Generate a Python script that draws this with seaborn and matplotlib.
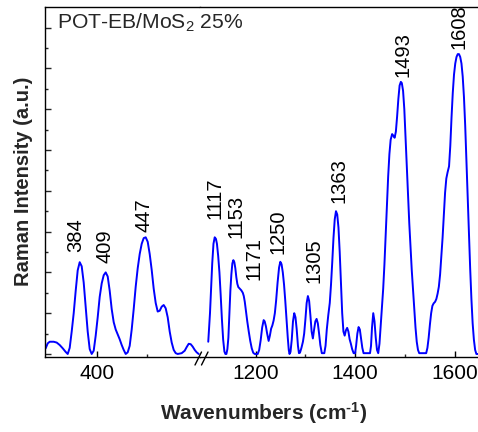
import matplotlib
matplotlib.use("Agg")
import matplotlib.pyplot as plt
from matplotlib.lines import Line2D
from matplotlib.ticker import FixedLocator, NullFormatter
import seaborn as sns
import pandas as pd

# ---- data ----
left_wn = [349, 351, 353, 357, 360, 363, 366, 369, 371, 373, 375, 377, 379, 381, 383, 385, 387,
           389, 391, 393, 395, 397, 399, 401, 403, 405, 407, 409, 411, 413, 415, 417, 419, 421,
           423, 425, 427, 429, 431, 433, 435, 437, 439, 441, 443, 445, 447, 449, 451, 453, 455,
           457, 459, 461, 463, 465, 467, 469, 471, 473, 475, 477, 479, 481, 485, 488, 490, 492,
           494, 496, 498, 500, 502]
left_int = [0.14, 0.26, 0.30, 0.30, 0.28, 0.22, 0.14, 0.05, 0.0, 0.15, 0.55, 1.0, 1.55, 2.05,
            2.25, 2.15, 1.75, 1.15, 0.55, 0.12, 0.0, 0.08, 0.45, 0.9, 1.4, 1.73, 1.93, 2.0, 1.9,
            1.55, 1.1, 0.78, 0.6, 0.48, 0.36, 0.22, 0.1, 0.0, 0.04, 0.2, 0.6, 1.1, 1.65, 2.1,
            2.45, 2.7, 2.84, 2.86, 2.75, 2.45, 2.06, 1.6, 1.25, 1.04, 1.06, 1.16, 1.2, 1.12, 0.9,
            0.55, 0.28, 0.1, 0.02, 0.0, 0.02, 0.08, 0.17, 0.25, 0.24, 0.18, 0.1, 0.04, 0.0]

right_wn = [1104.5, 1106, 1108, 1110, 1112.5, 1115, 1117.5, 1120, 1122, 1124.5, 1127, 1129.5,
            1132, 1134.5, 1137, 1139, 1141, 1143, 1145, 1147, 1149, 1151, 1153, 1155, 1157, 1159,
            1161, 1163, 1165, 1168, 1171, 1174, 1176, 1178, 1180, 1183, 1186, 1189, 1192, 1195,
            1198, 1204, 1207, 1210, 1213, 1216, 1218, 1220.5, 1223, 1226, 1228.5, 1231, 1233.5,
            1236, 1238.5, 1241, 1244, 1247, 1249.5, 1252, 1254.5, 1257, 1259.5, 1262, 1264.5,
            1266.5, 1268, 1270, 1272.5, 1275, 1277.5, 1280, 1282.5, 1285, 1287, 1289, 1292, 1295,
            1297.5, 1300, 1302.5, 1305, 1307.5, 1310, 1312.5, 1315, 1317.5, 1320, 1322.5, 1325,
            1327.5, 1330, 1333, 1338, 1340.5, 1343, 1346, 1349, 1351.5, 1354, 1356.5, 1359,
            1361.5, 1364, 1366.5, 1369, 1371.5, 1374, 1376.5, 1379, 1381.5, 1384, 1386.5, 1389,
            1391.5, 1394, 1397, 1400, 1402, 1404.5, 1407, 1409.5, 1412, 1414.5, 1417, 1430, 1432,
            1434, 1436.5, 1439, 1441.5, 1444, 1446.5, 1449, 1451.5, 1454, 1456.5, 1459, 1461.5,
            1464, 1466.5, 1469, 1471.5, 1474.5, 1477, 1479.5, 1482, 1484.5, 1487, 1489.5, 1492,
            1494, 1496.5, 1499, 1501.5, 1504, 1506.5, 1509, 1511.5, 1514, 1516.5, 1519, 1521.5,
            1524, 1526.5, 1529, 1543, 1545.5, 1548, 1550.5, 1553, 1555.5, 1558, 1561, 1563.5,
            1566, 1568.5, 1571, 1573.5, 1576, 1578.5, 1581, 1583.5, 1586, 1589, 1591.5, 1594,
            1596.5, 1599, 1601.5, 1604, 1606.5, 1609, 1611.5, 1614, 1616.5, 1619, 1621.5, 1624,
            1626.5, 1629, 1631.5, 1634, 1636.5, 1639, 1641.5, 1644, 1650]
right_int = [0.30, 0.6, 1.0, 1.55, 2.22, 2.7, 2.86, 2.82, 2.7, 2.4, 2.0, 1.45,
             0.85, 0.35, 0.06, 0.0, 0.0, 0.12, 0.4, 0.95, 1.55, 1.95, 2.22, 2.30, 2.25, 2.1,
             1.88, 1.72, 1.64, 1.6, 1.56, 1.5, 1.42, 1.28, 1.08, 0.8, 0.55, 0.32, 0.14, 0.03,
             0.0, 0.0, 0.1, 0.34, 0.65, 0.83, 0.8, 0.68, 0.5, 0.32, 0.45, 0.62, 0.7,
             0.82, 1.0, 1.3, 1.75, 2.12, 2.26, 2.2, 2.0, 1.7, 1.3, 0.85, 0.4,
             0.1, 0.0, 0.05, 0.35, 0.8, 1.0, 0.9, 0.6, 0.2, 0.02, 0.03, 0.15, 0.3,
             0.5, 0.85, 1.25, 1.42, 1.3, 0.95, 0.55, 0.38, 0.6, 0.8, 0.86, 0.75,
             0.5, 0.22, 0.02, 0.02, 0.2, 0.6, 0.95, 1.25, 1.7, 2.25, 2.85, 3.3,
             3.5, 3.42, 3.1, 2.5, 1.75, 1.0, 0.55, 0.45, 0.58, 0.64, 0.55, 0.36,
             0.25, 0.12, 0.02, 0.02, 0.2, 0.5, 0.66, 0.6, 0.38, 0.15, 0.02, 0.02, 0.2,
             0.65, 1.0, 0.8, 0.4, 0.1, 0.02, 0.25, 0.7, 1.15, 1.6, 2.2, 2.9,
             3.65, 4.35, 4.9, 5.25, 5.39, 5.35, 5.3, 5.45, 5.82, 6.25, 6.58, 6.67,
             6.64, 6.45, 6.0, 5.3, 4.55, 3.85, 3.2, 2.6, 2.05, 1.57, 1.1, 0.65,
             0.3, 0.1, 0.02, 0.02, 0.15, 0.4, 0.72, 1.0, 1.18, 1.24, 1.28, 1.35,
             1.48, 1.65, 1.95, 2.4, 2.85, 3.4, 3.95, 4.3, 4.45, 4.6, 5.1, 5.8,
             6.4, 6.85, 7.12, 7.28, 7.35, 7.35, 7.28, 7.12, 6.8, 6.3, 5.6, 4.75,
             3.86, 2.95, 2.1, 1.35, 0.75, 0.35, 0.1, 0.0, 0.0]

peak_labels = ["384", "409", "447", "1117", "1153", "1171", "1250", "1305", "1363", "1493", "1608"]
label_x = [379, 408, 447, 1118, 1160, 1197, 1244, 1318, 1368, 1496, 1610]
label_y = [2.51, 2.23, 2.99, 3.30, 2.85, 1.81, 2.45, 1.74, 3.70, 6.79, 7.48]

x_major_left = [400]
x_minor_left = [450]
x_major_right = [1200, 1400, 1600]
x_minor_right = [1300, 1500]

sns.set_style("ticks")
plt.rcParams['font.family'] = ['Liberation Sans', 'DejaVu Sans']
plt.rcParams['mathtext.fontset'] = 'custom'
plt.rcParams['mathtext.rm'] = 'Liberation Sans'
plt.rcParams['mathtext.it'] = 'Liberation Sans:italic'
plt.rcParams['mathtext.bf'] = 'Liberation Sans:bold'

W, H = 478, 432
fig = plt.figure(figsize=(W / 100, H / 100), dpi=100)
axL = fig.add_axes([45 / W, 75 / H, 155 / W, 350 / H])
axR = fig.add_axes([200 / W, 75 / H, 281 / W, 350 / H])

dfL = pd.DataFrame({"wn": left_wn, "I": left_int})
dfR = pd.DataFrame({"wn": right_wn, "I": right_int})
sns.lineplot(data=dfL, x="wn", y="I", ax=axL, color="#0000ff", lw=1.4, estimator=None)
sns.lineplot(data=dfR, x="wn", y="I", ax=axR, color="#0000ff", lw=1.4, estimator=None)

ymin, ymax = -0.074, 8.505
for ax in (axL, axR):
    ax.set_ylim(ymin, ymax)
    ax.set_xlabel("")
    ax.set_ylabel("")
    for s in ax.spines.values():
        s.set_linewidth(1.0)
        s.set_color("black")
    ax.tick_params(axis="x", which="major", direction="in", length=4.5, width=1.0,
                   labelsize=15, pad=5, colors="black")
    ax.tick_params(axis="x", which="minor", direction="in", length=2.5, width=1.0)

axL.set_xlim(348.3, 503.3)
axR.set_xlim(1087.9, 1653.3)

axL.xaxis.set_major_locator(FixedLocator(x_major_left))
axL.xaxis.set_minor_locator(FixedLocator(x_minor_left))
axR.xaxis.set_major_locator(FixedLocator(x_major_right))
axR.xaxis.set_minor_locator(FixedLocator(x_minor_right))

axL.spines["right"].set_visible(False)
axR.spines["left"].set_visible(False)
axR.spines["right"].set_visible(False)
axR.tick_params(axis="y", which="both", left=False, right=False, labelleft=False)

axL.yaxis.set_major_locator(FixedLocator([0, 1, 2, 3, 4, 5, 6, 7, 8]))
axL.yaxis.set_minor_locator(FixedLocator([0.5, 1.5, 2.5, 3.5, 4.5, 5.5, 6.5, 7.5]))
axL.yaxis.set_major_formatter(NullFormatter())
axL.tick_params(axis="y", which="major", direction="in", length=4.5, width=1.0)
axL.tick_params(axis="y", which="minor", direction="in", length=2.5, width=1.0)

for lab, lx, ly in zip(peak_labels, label_x, label_y):
    ax = axL if lx < 600 else axR
    ax.text(lx, ly, lab, rotation=90, ha="center", va="bottom", fontsize=14.5,
            color="black", clip_on=False)

# break marks on the bottom axis
for x0 in (195, 201.5):
    fig.add_artist(Line2D([x0 / W, (x0 + 6.5) / W], [1 - 365 / H, 1 - 352 / H],
                          transform=fig.transFigure, color="black", lw=1.0))

fig.text(57 / W, 1 - 12 / H, "POT-EB/MoS$_2$ 25%", ha="left", va="top", fontsize=15.2)
fig.text(24 / W, 1 - 181.5 / H, "Raman Intensity (a.u.)", rotation=90, ha="center",
         va="center", fontsize=14.5, fontweight="bold")
fig.text(264 / W, 1 - 413 / H, "Wavenumbers (cm$^{\\mathbf{\u2010}\\mathbf{1}}$)", ha="center",
         va="center", fontsize=15, fontweight="bold")

fig.savefig("out.png", dpi=100)
